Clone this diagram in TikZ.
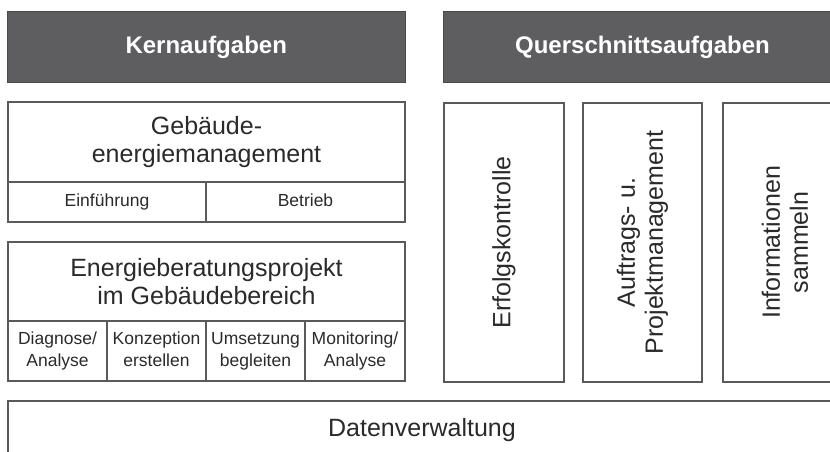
\documentclass[tikz,border=0pt]{standalone}
\usepackage{fontspec}
\setmainfont{Liberation Sans}
\definecolor{headfill}{HTML}{5E5E60}
\definecolor{headline}{HTML}{4A4A4C}
\definecolor{linegray}{HTML}{5A5A5A}
\definecolor{ink}{HTML}{2A2A2A}
\begin{document}
\begin{tikzpicture}[x=1pt,y=-1pt,
  head/.style={draw=headline, fill=headfill, text=white, line width=1pt,
    inner sep=0pt, font=\fontsize{24}{28}\selectfont\bfseries},
  cell/.style={draw=linegray, line width=1.3pt, text=ink, inner sep=0pt, align=center},
  big/.style={font=\fontsize{25}{28}\selectfont},
  small/.style={font=\fontsize{17.5}{22}\selectfont},
]
\useasboundingbox (0,0) rectangle (830,452);
\clip (0,0) rectangle (830,452);

% column headers
\node[head, minimum width=397.5pt, minimum height=71pt] (kern) at (206.25,47.5) {Kernaufgaben};
\node[head, minimum width=399pt, minimum height=71pt] (quer) at (642.5,47.5) {Querschnittsaufgaben};

% building energy management
\node[cell, big, minimum width=397pt, minimum height=80pt] (geb) at (206.5,142) {Gebäude-\\energiemanagement};
\node[cell, small, minimum width=198pt, minimum height=40pt] (einf) at (107,202) {Einführung\strut};
\node[cell, small, minimum width=199pt, minimum height=40pt] (betr) at (305.5,202) {Betrieb\strut};

% energy consulting project
\node[cell, big, minimum width=397pt, minimum height=79pt] (proj) at (206.5,281.5) {Energieberatungsprojekt\\im Gebäudebereich};
\node[cell, small, minimum width=99pt, minimum height=60pt] (diag) at (57.5,351) {Diagnose/\strut\\Analyse\strut};
\node[cell, small, minimum width=99pt, minimum height=60pt] (konz) at (156.5,351) {Konzeption\strut\\erstellen\strut};
\node[cell, small, minimum width=99pt, minimum height=60pt] (umse) at (255.5,351) {Umsetzung\strut\\begleiten\strut};
\node[cell, small, minimum width=100pt, minimum height=60pt] (moni) at (355,351) {Monitoring/\strut\\Analyse\strut};

% cross-cutting tasks (vertical labels)
\node[cell, big, rotate=90, minimum width=279pt, minimum height=120pt] (erf) at (504,242.5) {Erfolgskontrolle};
\node[cell, big, rotate=90, minimum width=279pt, minimum height=119pt] (auf) at (642.5,242.5) {Auftrags- u.\\Projektmanagement};
\node[cell, big, rotate=90, minimum width=279pt, minimum height=124pt] (info) at (785,242.5) {Informationen\\sammeln};

% data management base
\node[cell, big, minimum width=828pt, minimum height=59pt] (daten) at (422,430.5) {Datenverwaltung};
\end{tikzpicture}
\end{document}
